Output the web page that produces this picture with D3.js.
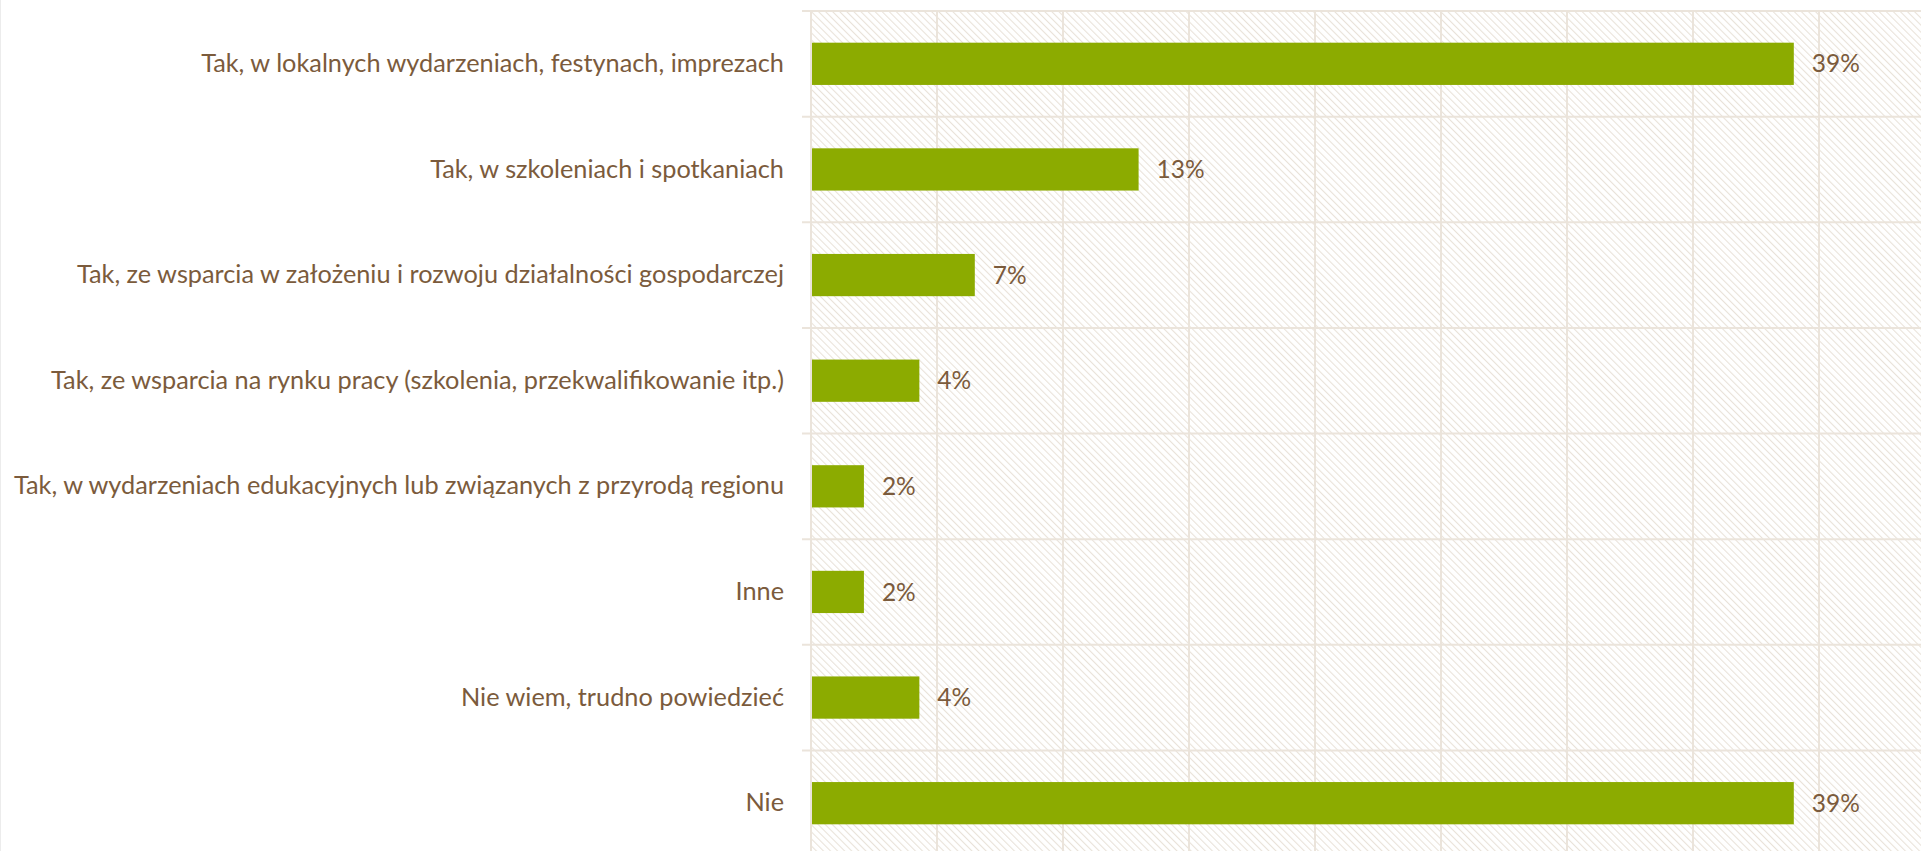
<!DOCTYPE html>
<html>
<head>
<meta charset="utf-8">
<script src="https://cdn.jsdelivr.net/npm/d3@7"></script>
<style>
  html, body { margin: 0; padding: 0; background: #fff; overflow: hidden; }
  text { font-family: Lato, "Open Sans", sans-serif; fill: #7b5b3c; }
</style>
</head>
<body>
<div id="chart"></div>
<script>
const width = 1921;
const height = 851;

// data (labels show rounded shares, bars use the unrounded ones)
const categories = [
    "Tak, w lokalnych wydarzeniach, festynach, imprezach",
    "Tak, w szkoleniach i spotkaniach",
    "Tak, ze wsparcia w założeniu i rozwoju działalności gospodarczej",
    "Tak, ze wsparcia na rynku pracy (szkolenia, przekwalifikowanie itp.)",
    "Tak, w wydarzeniach edukacyjnych lub związanych z przyrodą regionu",
    "Inne",
    "Nie wiem, trudno powiedzieć",
    "Nie"
];
const values = [39.0, 13.0, 6.5, 4.3, 2.1, 2.1, 4.3, 39.0];
const xTicks = [0, 5, 10, 15, 20, 25, 30, 35, 40, 45];

const gridColor = "#ebe4db";

const svg = d3.select("#chart")
    .append("svg")
    .attr("width", width)
    .attr("height", height);

// hatch pattern for the plot background
const pattern = svg.append("defs")
    .append("pattern")
    .attr("id", "hatch")
    .attr("patternUnits", "userSpaceOnUse")
    .attr("width", 5)
    .attr("height", 5)
    .attr("patternTransform", "rotate(-45)");
pattern.append("line")
    .attr("x1", 0).attr("y1", 0)
    .attr("x2", 0).attr("y2", 5)
    .attr("stroke", "#e9e2d9")
    .attr("stroke-width", 2.2);

// faint frame on the left edge
svg.append("line")
    .attr("x1", 0.5).attr("x2", 0.5)
    .attr("y1", 0).attr("y2", height)
    .attr("stroke", "#ececec");

const x = d3.scaleLinear()
    .domain([0, 45])
    .range([811, 1945]);

const y = d3.scaleBand()
    .domain(categories)
    .range([11, 856])
    .paddingInner(0.6)
    .paddingOuter(0.3);

const plotTop = y.range()[0];
const plotBottom = y.range()[1];

svg.append("rect")
    .attr("x", x(0))
    .attr("y", plotTop)
    .attr("width", x(45) - x(0))
    .attr("height", plotBottom - plotTop)
    .attr("fill", "url(#hatch)");

// vertical gridlines
svg.append("g")
    .selectAll("line")
    .data(xTicks)
    .join("line")
    .attr("x1", d => x(d))
    .attr("x2", d => x(d))
    .attr("y1", plotTop)
    .attr("y2", plotBottom)
    .attr("stroke", gridColor)
    .attr("stroke-width", 2);

// horizontal lines at category boundaries (with small ticks to the left)
const rowEdges = d3.range(categories.length + 1).map(i => plotTop + i * y.step());
svg.append("g")
    .selectAll("line")
    .data(rowEdges)
    .join("line")
    .attr("x1", x(0) - 9)
    .attr("x2", width)
    .attr("y1", d => d)
    .attr("y2", d => d)
    .attr("stroke", gridColor)
    .attr("stroke-width", 2);

// bars
svg.append("g")
    .selectAll("rect")
    .data(values)
    .join("rect")
    .attr("x", x(0) + 1)
    .attr("y", (d, i) => y(categories[i]))
    .attr("width", d => x(d) - x(0) - 1)
    .attr("height", y.bandwidth())
    .attr("fill", "#8cab00");

// value labels
svg.append("g")
    .selectAll("text")
    .data(values)
    .join("text")
    .attr("x", d => x(d) + 18)
    .attr("y", (d, i) => y(categories[i]) + y.bandwidth() / 2)
    .attr("dy", "0.35em")
    .attr("font-size", 24.5)
    .text(d => Math.round(d) + "%");

// category labels
const yAxis = d3.axisLeft(y)
    .tickSize(0)
    .tickPadding(27);

const gy = svg.append("g")
    .attr("transform", "translate(" + x(0) + ",0)")
    .call(yAxis);
gy.select(".domain").remove();
gy.selectAll("text")
    .attr("font-size", 25.3)
    .style("font-family", "Lato, 'Open Sans', sans-serif")
    .attr("fill", "#7b5b3c");
</script>
</body>
</html>
